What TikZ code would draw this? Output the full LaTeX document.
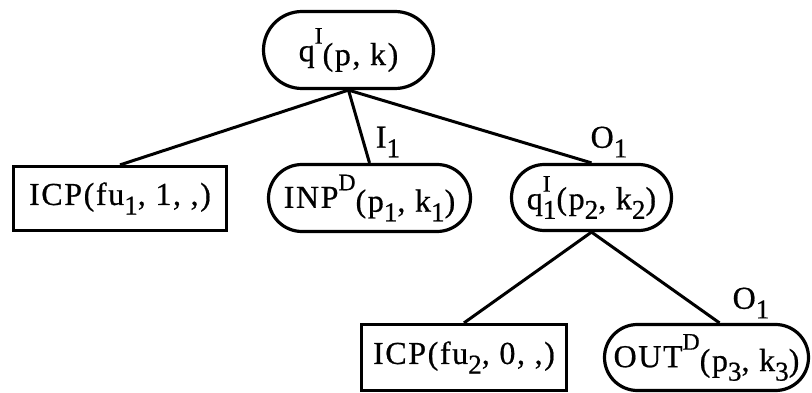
\documentclass[tikz,border=0pt]{standalone}
\usepackage{graphicx}
\usepackage{fontspec}
\setmainfont{Liberation Serif}[LetterSpace=5, FakeBold=0.6]
\usetikzlibrary{shapes.misc}
% raised / lowered indices in the typewriter style
\newcommand{\up}[1]{\raisebox{0.55em}{\scalebox{0.74}{#1}}}
\newcommand{\dn}[1]{\raisebox{-0.3em}{\scalebox{0.85}{#1}}}
\newcommand{\lowr}[1]{\raisebox{-0.12em}{#1}}
% text that does not widen its pill
\newcommand{\pilltext}[1]{\makebox[0pt][c]{#1}}
\tikzset{
  txt/.style={font=\fontsize{32}{36}\selectfont, inner sep=0pt},
  leafbox/.style={txt, draw, rectangle, line width=3.2pt},
  pill/.style={txt, draw, rounded rectangle, rounded rectangle arc length=180,
    line width=3.2pt},
  edge/.style={line width=3pt},
}
\begin{document}
\begin{tikzpicture}[x=1pt, y=-1pt]
\useasboundingbox (0,0) rectangle (812,393);

% tree nodes
\node[pill, minimum width=170pt, minimum height=77pt] (root) at (348.5,50)
  {\pilltext{q\up{I}\lowr{(p, k)}}};
\node[leafbox, minimum width=213pt, minimum height=64pt] (icpa) at (120,198.5)
  {ICP(fu\dn{1}, 1, ,)};
\node[pill, minimum width=202pt, minimum height=67pt] (inp) at (369.5,198)
  {\pilltext{INP\up{D}\lowr{(p\dn{1}, k\dn{1})}}};
\node[pill, minimum width=160pt, minimum height=66pt] (qa) at (591.5,197.5)
  {\pilltext{q\rlap{\up{I}}\dn{1}(p\dn{2}, k\dn{2})}};
\node[leafbox, minimum width=205pt, minimum height=66pt] (icpb) at (464,357.5)
  {ICP(fu\dn{2}, 0, ,)};
\node[pill, minimum width=204pt, minimum height=66pt] (out) at (706.5,357.5)
  {\pilltext{OUT\up{D}\lowr{(p\dn{3}, k\dn{3})}}};

% connectors
\draw[edge] (root.south) -- (icpa.north);
\draw[edge] (root.south) -- (inp.north);
\draw[edge] (root.south) -- (qa.north);
\draw[edge] (qa.south) -- (icpb.north);
\draw[edge] (qa.south) -- ([xshift=13pt]out.north);

% connector labels
\node[txt] (li) at (388,142) {I\dn{1}};
\node[txt] (loa) at (609,142) {O\dn{1}};
\node[txt] (lob) at (751,303) {O\dn{1}};
\end{tikzpicture}
\end{document}
